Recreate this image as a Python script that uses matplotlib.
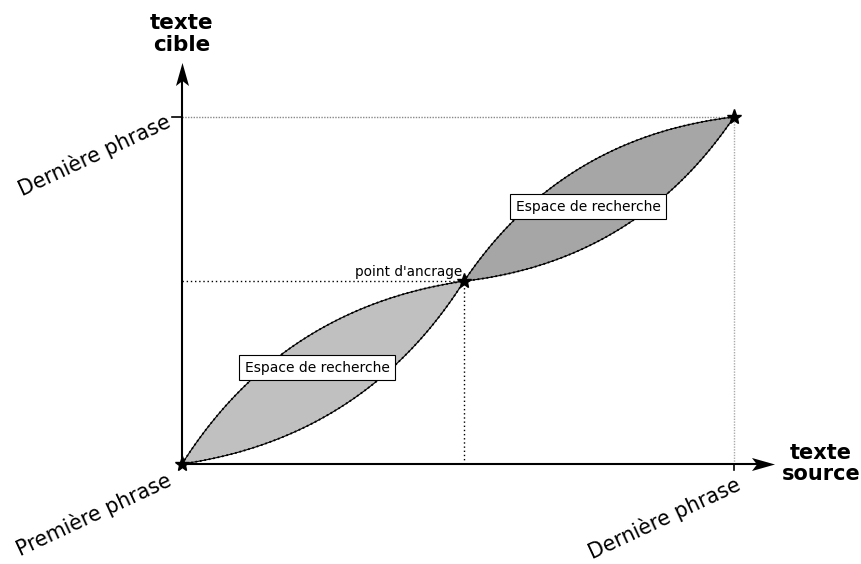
import numpy as np
import matplotlib
matplotlib.use("Agg")
import matplotlib.pyplot as plt
from matplotlib.path import Path

# Alignment points (source sentence index, target sentence index)
point_names = ["Première phrase", "point d'ancrage", "Dernière phrase"]
source_pos = [0.0, 51.1, 100.0]
target_pos = [0.0, 52.7, 100.0]
region_labels = ["Espace de recherche", "Espace de recherche"]
region_label_x = [24.5, 73.6]
region_label_y = [27.7, 74.1]
region_colors = ["#c0c0c0", "#a6a6a6"]
axis_titles = ["texte\nsource", "texte\ncible"]

fig = plt.figure(figsize=(8.61, 5.64), dpi=100)
ax = fig.add_axes([0, 0, 1, 1])
# 5.52 px per source unit, 3.47 px per target unit, origin at pixel (182, 464)
ax.set_xlim(-182 / 5.52, (861 - 182) / 5.52)
ax.set_ylim(-(564 - 464) / 3.47, 464 / 3.47)
ax.axis('off')

to_disp = ax.transData
to_data = ax.transData.inverted()


def bezier(p0, c, p1, n=120):
    t = np.linspace(0, 1, n)[:, None]
    return (1 - t) ** 2 * p0 + 2 * (1 - t) * t * c + t ** 2 * p1


bulge = 0.23
for i in range(len(source_pos) - 1):
    d0 = to_disp.transform((source_pos[i], target_pos[i]))
    d1 = to_disp.transform((source_pos[i + 1], target_pos[i + 1]))
    mid = (d0 + d1) / 2
    chord = d1 - d0
    L = np.hypot(*chord)
    normal = np.array([-chord[1], chord[0]]) / L
    upper = to_data.transform(bezier(d0, mid + bulge * L * normal, d1))
    lower = to_data.transform(bezier(d0, mid - bulge * L * normal, d1))
    poly = np.vstack([upper, lower[::-1]])
    ax.fill(poly[:, 0], poly[:, 1], color=region_colors[i], lw=0, zorder=1)
    for curve in (upper, lower):
        ax.plot(curve[:, 0], curve[:, 1], color='black', lw=0.8, zorder=2)
        ax.plot(curve[:, 0], curve[:, 1], color='black', lw=1.3,
                ls=(0, (1, 1.5)), zorder=2)
    ax.text(region_label_x[i], region_label_y[i], region_labels[i],
            ha='center', va='center', fontsize=10, zorder=5,
            bbox=dict(boxstyle='square,pad=0.4', facecolor='white',
                      edgecolor='black', linewidth=0.8))

# guide lines to the anchor point and to the last sentence
ax.plot([0, source_pos[1]], [target_pos[1], target_pos[1]], color='black',
        lw=1, ls=(0, (1, 2)), zorder=0)
ax.plot([source_pos[1], source_pos[1]], [0, target_pos[1]], color='black',
        lw=1, ls=(0, (1, 2)), zorder=0)
ax.plot([0, source_pos[2]], [target_pos[2], target_pos[2]], color='#888888',
        lw=1, ls=(0, (1, 1)), zorder=0)
ax.plot([source_pos[2], source_pos[2]], [0, target_pos[2]], color='#aaaaaa',
        lw=1, ls=(0, (1, 1)), zorder=0)

# axes with stealth-like arrow heads
ax.plot([0, 106], [0, 0], color='black', lw=1.5, zorder=3)
ax.plot([0, 0], [0, 113], color='black', lw=1.5, zorder=3)
head = Path([(11.5, 0), (-11.5, 6.5), (-6.5, 0), (-11.5, -6.5), (11.5, 0)],
            [Path.MOVETO, Path.LINETO, Path.LINETO, Path.LINETO, Path.CLOSEPOLY])
ax.plot([105.3], [0], marker=head, markersize=16.6, color='black',
        markeredgewidth=0, zorder=4)
head_up = Path([(0, 11.5), (6.5, -11.5), (0, -6.5), (-6.5, -11.5), (0, 11.5)],
               [Path.MOVETO, Path.LINETO, Path.LINETO, Path.LINETO, Path.CLOSEPOLY])
ax.plot([0], [112.4], marker=head_up, markersize=16.6, color='black',
        markeredgewidth=0, zorder=4)

# tick marks for the last sentence
ax.plot([-1.8, 0], [target_pos[2], target_pos[2]], color='black', lw=1.2, zorder=3)
ax.plot([source_pos[2], source_pos[2]], [-1.7, 0], color='black', lw=1.2, zorder=3)

# stars at alignment points
ax.plot(source_pos, target_pos, ls='none', marker='*', markersize=11,
        color='black', zorder=6)

# rotated labels (baseline end anchored)
label_kw = dict(rotation=25, rotation_mode='anchor', ha='right',
                va='baseline', fontsize=14.8)
ax.text(-1.6, -6.0, point_names[0], **label_kw)
ax.text(-1.8, target_pos[2] - 2.6, point_names[2], **label_kw)
ax.text(source_pos[2] + 1.45, -7.4, point_names[2], **label_kw)
ax.text(source_pos[1] - 0.4, target_pos[1] + 0.6, point_names[1], ha='right',
        va='bottom', fontsize=9.8)

# axis titles
ax.text((821 - 182) / 5.52, 0.2, axis_titles[0], ha='center', va='center',
        fontsize=15, fontweight='bold', linespacing=1.1)
ax.text(0, (464 - 34) / 3.47, axis_titles[1], ha='center', va='center',
        fontsize=15.5, fontweight='bold', linespacing=1.1)

fig.savefig('out.png', dpi=100, facecolor='white')
